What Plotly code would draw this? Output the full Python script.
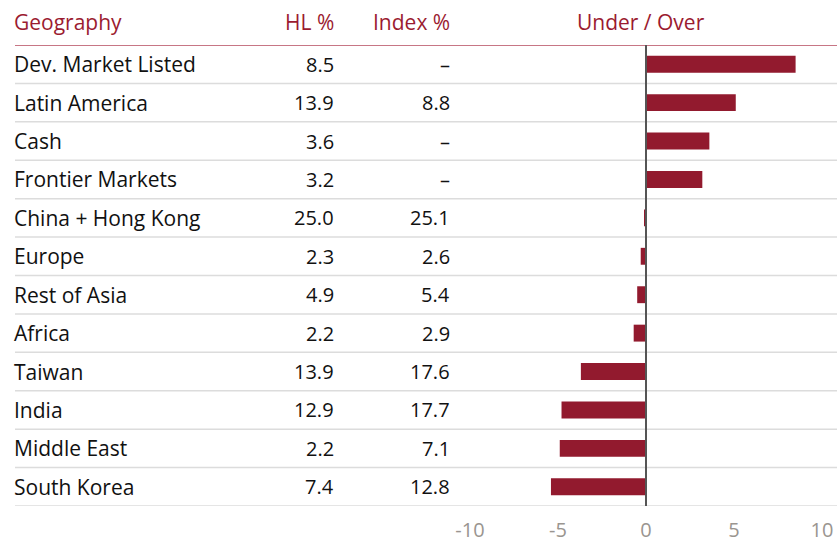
import plotly.graph_objects as go

geography = ["Dev. Market Listed", "Latin America", "Cash", "Frontier Markets",
             "China + Hong Kong", "Europe", "Rest of Asia", "Africa", "Taiwan",
             "India", "Middle East", "South Korea"]
hl_pct = ["8.5", "13.9", "3.6", "3.2", "25.0", "2.3", "4.9", "2.2", "13.9", "12.9", "2.2", "7.4"]
index_pct = ["–", "8.8", "–", "–", "25.1", "2.6", "5.4", "2.9", "17.6", "17.7", "7.1", "12.8"]
under_over = [8.5, 5.1, 3.6, 3.2, -0.1, -0.3, -0.5, -0.7, -3.7, -4.8, -4.9, -5.4]
x_ticks = [-10, -5, 0, 5, 10]
headers = ["Geography", "HL %", "Index %", "Under / Over"]

W, H = 837, 543
RED = "#921a2e"
HEAD = "#9b1b30"
FONT = "Open Sans"
FS_LBL = 21
FS_NUM = 20

def px(x):
    return x / W

def py(y):
    return 1 - y / H

n = len(geography)
fig = go.Figure(go.Bar(
    x=under_over, y=list(range(n)), orientation="h",
    marker=dict(color=RED, line=dict(width=0)), width=0.44,
    hoverinfo="skip",
))

fig.update_layout(
    width=W, height=H, margin=dict(l=0, r=0, t=0, b=0, autoexpand=False),
    paper_bgcolor="white", plot_bgcolor="white", showlegend=False,
    font=dict(family=FONT, size=FS_NUM, color="#111111"),
    xaxis=dict(domain=[px(470), px(822)], range=[-10, 10], tickvals=x_ticks,
               ticktext=[str(t) for t in x_ticks],
               showgrid=False, zeroline=False, showline=False, automargin=False,
               tickfont=dict(family=FONT, size=20, color="#9a9590"),
               ticks="", ticklabelstandoff=10, fixedrange=True),
    yaxis=dict(domain=[py(506), py(45)], range=[n - 0.5, -0.5],
               showticklabels=False, showgrid=False, zeroline=False,
               showline=False, automargin=False, fixedrange=True),
)

shapes = []
for i in range(n):
    shapes.append(dict(type="line", xref="paper", yref="y",
                       x0=px(15), x1=1, y0=i + 0.5, y1=i + 0.5,
                       line=dict(color="#dcdcdc", width=1.5), layer="below"))
shapes.append(dict(type="line", xref="paper", yref="y",
                   x0=px(15), x1=1, y0=-0.5, y1=-0.5,
                   line=dict(color="#b5485c", width=1.5)))
shapes.append(dict(type="line", xref="x", yref="y",
                   x0=0, x1=0, y0=-0.5, y1=n - 0.5,
                   line=dict(color="#555555", width=2)))
fig.update_layout(shapes=shapes)

ann = []
ann.append(dict(text=headers[0], x=px(13), xanchor="left", y=py(22), yanchor="middle"))
ann.append(dict(text=headers[1], x=px(335), xanchor="right", y=py(22), yanchor="middle"))
ann.append(dict(text=headers[2], x=px(451), xanchor="right", y=py(22), yanchor="middle"))
ann.append(dict(text=headers[3], x=px(641), xanchor="center", y=py(22), yanchor="middle"))
for a in ann:
    a.update(xref="paper", yref="paper", showarrow=False, borderpad=0,
             font=dict(family=FONT, size=FS_LBL, color=HEAD))
for i in range(n):
    ann.append(dict(text=geography[i], x=px(13), xanchor="left", xref="paper",
                    y=i, yref="y", yanchor="middle", showarrow=False, borderpad=0,
                    font=dict(family=FONT, size=FS_LBL, color="#111111")))
    for txt, x in [(hl_pct[i], px(335)), (index_pct[i], px(451))]:
        ann.append(dict(text=txt, x=x, xanchor="right", xref="paper",
                        y=i, yref="y", yanchor="middle", showarrow=False,
                        borderpad=0,
                        font=dict(family=FONT, size=FS_NUM, color="#111111")))
fig.update_layout(annotations=ann)

fig.write_html("out.html", config={"displayModeBar": False},
               post_script="document.body.style.margin='0';document.body.style.overflow='hidden';")
